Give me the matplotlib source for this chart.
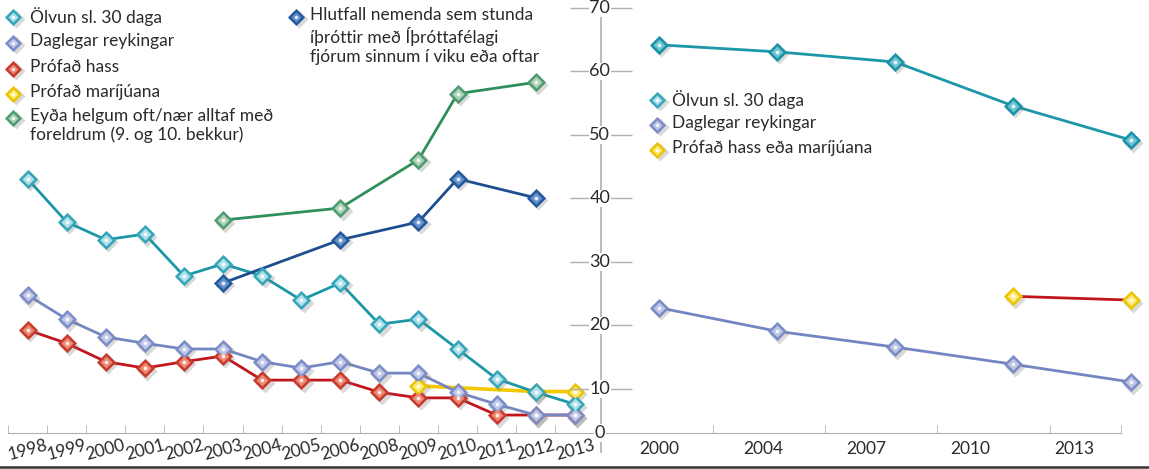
import matplotlib
matplotlib.use('Agg')

from matplotlib import pyplot as plt
from matplotlib import transforms
import numpy as np

plt.rcParams['font.family'] = ['Lato', 'DejaVu Sans']

# ---- data: left panel (yearly series) ----
years_left = ['1998', '1999', '2000', '2001', '2002', '2003', '2004', '2005',
              '2006', '2008', '2009', '2010', '2011', '2012', '2013']
olvun_left = [43.1, 36.3, 33.5, 34.4, 27.8, 29.7, 27.8, 24.0, 26.7, 20.2, 21.0, 16.3, 11.6, 9.5, 7.6]
reyk_left = [24.8, 21.0, 18.2, 17.2, 16.3, 16.3, 14.3, 13.3, 14.3, 12.5, 12.5, 9.5, 7.6, 5.9, 5.9]
hass_left = [19.3, 17.2, 14.3, 13.3, 14.3, 15.2, 11.4, 11.4, 11.4, 9.5, 8.6, 8.6, 5.9, 5.9, 5.9]
mar_years = ['2009', '2012', '2013']
mar_left = [10.5, 9.6, 9.6]
eyda_years = ['2003', '2006', '2009', '2010', '2012']
eyda_left = [36.6, 38.5, 46.1, 56.5, 58.3]
ithrott_years = ['2003', '2006', '2009', '2010', '2012']
ithrott_left = [26.7, 33.5, 36.3, 43.1, 40.1]

# ---- data: right panel ----
years_right = ['2000', '2004', '2007', '2010', '2013']
olvun_right = [64.2, 63.1, 61.5, 54.6, 49.2]
reyk_right = [22.8, 19.1, 16.6, 13.9, 11.1]
hassmar_years = ['2010', '2013']
hassmar_right = [24.6, 24.0]

y_ticks = [10, 20, 30, 40, 50, 60, 70]
y_bottom, y_top = 3.07, 71.26   # bottom of axis is labelled "0"

W, H = 1149, 469
fig = plt.figure(figsize=(W / 100, H / 100), dpi=100)
GRAY = '#b0b0b0'
TXT = '#2a2a2a'


def fx(px):
    return px / W


def fy(py):
    return 1 - py / H


def markers(ax, x, y, edge, face, ms=9, transform=None):
    base = ax.transData if transform is None else transform
    shadow = transforms.offset_copy(base, fig=fig, x=2.5, y=-2.5, units='dots')
    ax.plot(x, y, ls='none', marker='D', ms=ms + 0.8, mfc='#777777', mec='none',
            alpha=0.28, transform=shadow, zorder=2.5, clip_on=False)
    ax.plot(x, y, ls='none', marker='D', ms=ms, mfc=edge, mec=edge, mew=0.6,
            transform=base, zorder=3, clip_on=False)
    ax.plot(x, y, ls='none', marker='D', ms=ms * 0.66, mfc=face, mec='none',
            transform=base, zorder=3.1, clip_on=False)
    ax.plot(x, y, ls='none', marker='o', ms=ms * 0.3, mfc='white', mec='none',
            alpha=0.85, transform=base, zorder=3.2, clip_on=False)


def series(ax, x, y, line, edge, face, lw=2.0):
    ax.plot(x, y, color=line, lw=lw, zorder=2, solid_joinstyle='round')
    markers(ax, x, y, edge, face)


# ---- left panel ----
ax1 = fig.add_axes([fx(8), fy(433), fx(601 - 8), 433 / H])
ax1.patch.set_visible(False)
pos = {yr: i for i, yr in enumerate(years_left)}
xl = np.arange(len(years_left))

series(ax1, xl, hass_left, '#c0161c', '#c83a2e', '#ec8a72')
series(ax1, [pos[y] for y in mar_years], mar_left, '#f2c900', '#ecc400', '#fdea7a', lw=2.6)
series(ax1, xl, reyk_left, '#7587c3', '#7c8dc7', '#c0c8e8')
series(ax1, xl, olvun_left, '#1b97a8', '#35a6ba', '#b0e0ea')
series(ax1, [pos[y] for y in eyda_years], eyda_left, '#2f8f5b', '#4f9c70', '#acd3b8')
series(ax1, [pos[y] for y in ithrott_years], ithrott_left, '#1d4f8e', '#23599d', '#6893cc')

ax1.set_xlim(-0.5, 14.67)
ax1.set_ylim(y_bottom, y_top)
for s in ['top', 'right', 'left']:
    ax1.spines[s].set_visible(False)
ax1.spines['bottom'].set_color(GRAY)
ax1.set_yticks([])
ax1.set_xticks(xl)
ax1.set_xticklabels(years_left, rotation=15, fontsize=12.5, color=TXT)
ax1.set_xticks(np.arange(-0.5, 15, 1), minor=True)
ax1.tick_params(axis='x', which='major', length=0, pad=3)
ax1.tick_params(axis='x', which='minor', direction='in', length=6, color=GRAY)

# ---- right panel ----
ax2 = fig.add_axes([fx(601), fy(433), fx(W - 601), 433 / H])
ax2.patch.set_visible(False)
xr = np.arange(len(years_right))
rpos = {yr: i for i, yr in enumerate(years_right)}

series(ax2, xr, olvun_right, '#1b97a8', '#1a93a7', '#6fc4d2')
series(ax2, xr, reyk_right, '#7486c2', '#7a8bc6', '#bcc5e6')
series(ax2, [rpos[y] for y in hassmar_years], hassmar_right, '#c0161c', '#ecc400', '#fdea7a')

ax2.set_xlim(-0.4915, 4.153)
ax2.set_ylim(y_bottom, y_top)
for s in ['top', 'right', 'left']:
    ax2.spines[s].set_visible(False)
ax2.spines['bottom'].set_color(GRAY)
ax2.spines['bottom'].set_bounds(-0.4915, 3.915)
ax2.set_xticks(xr * 0.88)
ax2.set_xticklabels(years_right, fontsize=12.5, color=TXT)
ax2.set_xticks([0.46, 1.41, 2.36, 3.31, 3.915], minor=True)
ax2.tick_params(axis='x', which='major', length=0, pad=6)
ax2.tick_params(axis='x', which='minor', direction='in', length=6, color=GRAY)

# central value axis
ax2.plot([0, 0], [0.1, y_top], transform=ax2.get_yaxis_transform(),
         color=GRAY, lw=1.2, clip_on=False, zorder=1)
ax2.set_yticks(y_ticks)
ax2.set_yticklabels([])
ax2.tick_params(axis='y', direction='inout', length=45, color=GRAY, width=1)
for v, lab in zip([y_bottom] + y_ticks, ['0'] + [str(t) for t in y_ticks]):
    ax2.text(-0.002, v, lab, transform=ax2.get_yaxis_transform(), ha='center',
             va='center', fontsize=13, color=TXT, zorder=4,
             bbox=dict(fc='white', ec='none', pad=0.5))

# ---- legends and bottom rule (pixel overlay) ----
ov = fig.add_axes([0, 0, 1, 1])
ov.set_xlim(0, W)
ov.set_ylim(H, 0)
ov.axis('off')
ov.patch.set_visible(False)

left_legend = [
    ('Ölvun sl. 30 daga', '#35a6ba', '#b0e0ea', 17),
    ('Daglegar reykingar', '#7c8dc7', '#c0c8e8', 43),
    ('Prófað hass', '#c83a2e', '#ec8a72', 69),
    ('Prófað maríjúana', '#ecc400', '#fdea7a', 94),
    ('Eyða helgum oft/nær alltaf með\nforeldrum (9. og 10. bekkur)', '#4f9c70', '#acd3b8', 118),
]
for lab, edge, face, yy in left_legend:
    markers(ov, [13], [yy], edge, face, ms=8, transform=ov.transData)
    ov.text(30, yy - 10, lab, fontsize=12.5, color=TXT, va='top', ha='left',
            linespacing=1.2)

markers(ov, [296], [17], '#23599d', '#6893cc', ms=8, transform=ov.transData)
ov.text(310, 7, 'Hlutfall nemenda sem stunda\níþróttir með Íþróttafélagi\n'
        'fjórum sinnum í viku eða oftar', fontsize=12.5, color=TXT,
        va='top', ha='left', linespacing=1.25)

right_legend = [
    ('Ölvun sl. 30 daga', '#35a6ba', '#b0e0ea', 100),
    ('Daglegar reykingar', '#7c8dc7', '#c0c8e8', 125),
    ('Prófað hass eða maríjúana', '#ecc400', '#fdea7a', 150),
]
for lab, edge, face, yy in right_legend:
    markers(ov, [657], [yy], edge, face, ms=8, transform=ov.transData)
    ov.text(672, yy - 10, lab, fontsize=12.5, color=TXT, va='top', ha='left')

ov.plot([0, W], [467, 467], color='#333333', lw=1.8)

fig.savefig('out.png', dpi=100)
